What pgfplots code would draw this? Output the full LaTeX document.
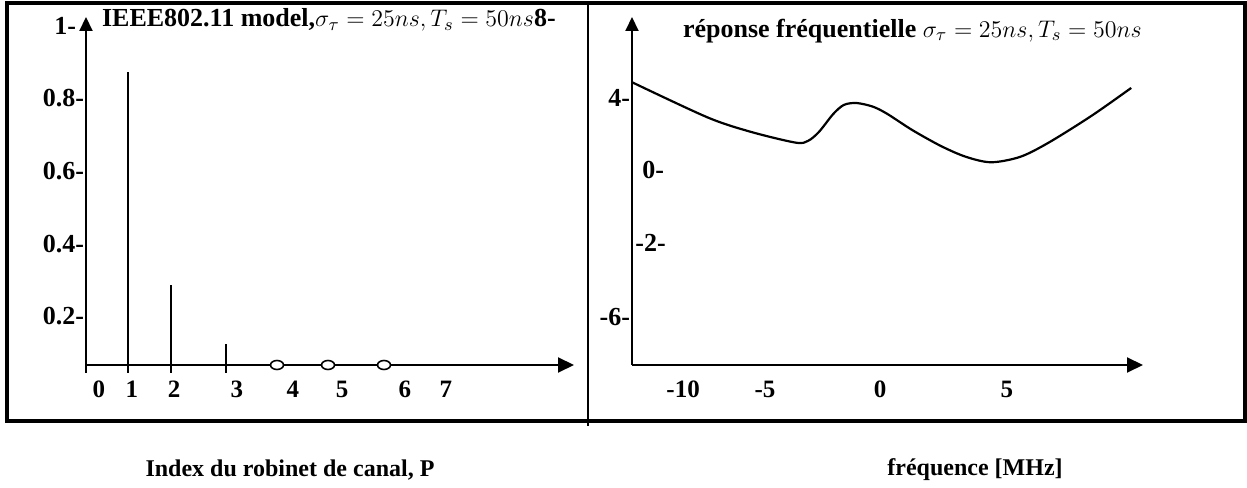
\documentclass[border=0pt]{standalone}
\usepackage{fontspec}
\setmainfont{Liberation Serif}
\usepackage{pgfplots}
\pgfplotsset{compat=1.18}
\usetikzlibrary{arrows.meta}

\pgfplotsset{
  sketch/.style={
    scale only axis,
    anchor=south west,
    axis lines=left,
    axis line style={line width=1pt},
    every outer x axis line/.append style={-{Triangle[length=8pt,width=7.5pt]}},
    every outer y axis line/.append style={-{Triangle[length=7pt,width=6.5pt]}},
    major tick length=0pt,
    tick style={draw=none},
    xticklabel style={font=\fontsize{12.5}{14}\selectfont\bfseries,
      anchor=center, inner sep=0pt, yshift=-12pt},
    yticklabel style={font=\fontsize{13}{15}\selectfont\bfseries,
      anchor=east, inner sep=0pt, xshift=-0.8pt},
    clip=false,
  }
}

\begin{document}
\begin{tikzpicture}[font=\fontsize{12}{14}\selectfont\bfseries]
\path (0,0) rectangle (623.5pt,-241pt);
\draw[line width=1.6pt] (3.5pt,-1.5pt) rectangle (622.5pt,-210.5pt);
\draw[line width=1pt] (294pt,-1.5pt) -- (294pt,-213pt);

% gauche : reponse impulsionnelle
\begin{axis}[sketch,
  at={(43pt,-182.5pt)}, width=244pt, height=174pt,
  xmin=0.1765, xmax=9.745, ymin=0.066, ymax=1.0234,
  xtick={0.431,1.078,1.902,3.137,4.235,5.196,6.431,7.235},
  xticklabels={0,1,2,3,4,5,6,7},
  ytick={0.2,0.4,0.6,0.8,1},
  yticklabels={0.2-,0.4-,0.6-,0.8-,{1-\kern4pt}},
]
\draw[line width=1pt] (axis cs:0.1765,0.066) -- (axis cs:0.1765,0.044);
\addplot[black, line width=0.9pt] coordinates {(1.000,0.044) (1.000,0.872)};
\addplot[black, line width=0.9pt] coordinates {(1.843,0.044) (1.843,0.286)};
\addplot[black, line width=0.9pt] coordinates {(2.922,0.044) (2.922,0.124)};
\addplot[only marks, mark=*, mark size=2.25pt,
  mark options={fill=white, draw=black, line width=0.8pt, xscale=1.44}]
  coordinates {(3.922,0.066) (4.922,0.066) (6.020,0.066)};
\end{axis}

% droite : reponse frequentielle
\begin{axis}[sketch,
  at={(316pt,-182.5pt)}, width=255.5pt, height=174pt,
  xmin=-10, xmax=10.605, ymin=-10.833, ymax=8.5,
  xtick={-7.94,-4.64,0,5.12},
  xticklabels={-10,-5,0,5},
  ytick={-8.17,4},
  yticklabels={-6-,4-},
  extra y ticks={-4.06,0},
  extra y tick labels={-2-,\hspace{3.5pt}0-},
  extra y tick style={yticklabel style={anchor=west, xshift=2.3pt}},
]
\addplot[black, line width=1.1pt, smooth] coordinates {
  (-9.99,4.87) (-6.95,2.92) (-5.21,2.12) (-3.40,1.52)
  (-2.90,1.62) (-2.46,2.12) (-1.88,3.12) (-1.45,3.62) (-0.94,3.72)
  (-0.29,3.52) (0.29,3.12) (1.30,2.22) (2.46,1.33) (3.47,0.73)
  (4.48,0.43) (5.65,0.73) (6.80,1.52) (8.54,3.02) (10.13,4.56)
};
\end{axis}

\node[anchor=west, font=\fontsize{13}{15}\selectfont\bfseries] at (47.5pt,-10pt)
  {IEEE802.11 model,$\sigma_\tau = 25ns, T_s = 50ns$8-};
\node[anchor=west, font=\fontsize{13}{15}\selectfont\bfseries] at (338pt,-15.5pt)
  {réponse fréquentielle $\sigma_\tau = 25ns, T_s = 50ns$};
\node at (145pt,-235pt) {Index du robinet de canal, P};
\node at (487.5pt,-235pt) {fréquence [MHz]};
\end{tikzpicture}
\end{document}
